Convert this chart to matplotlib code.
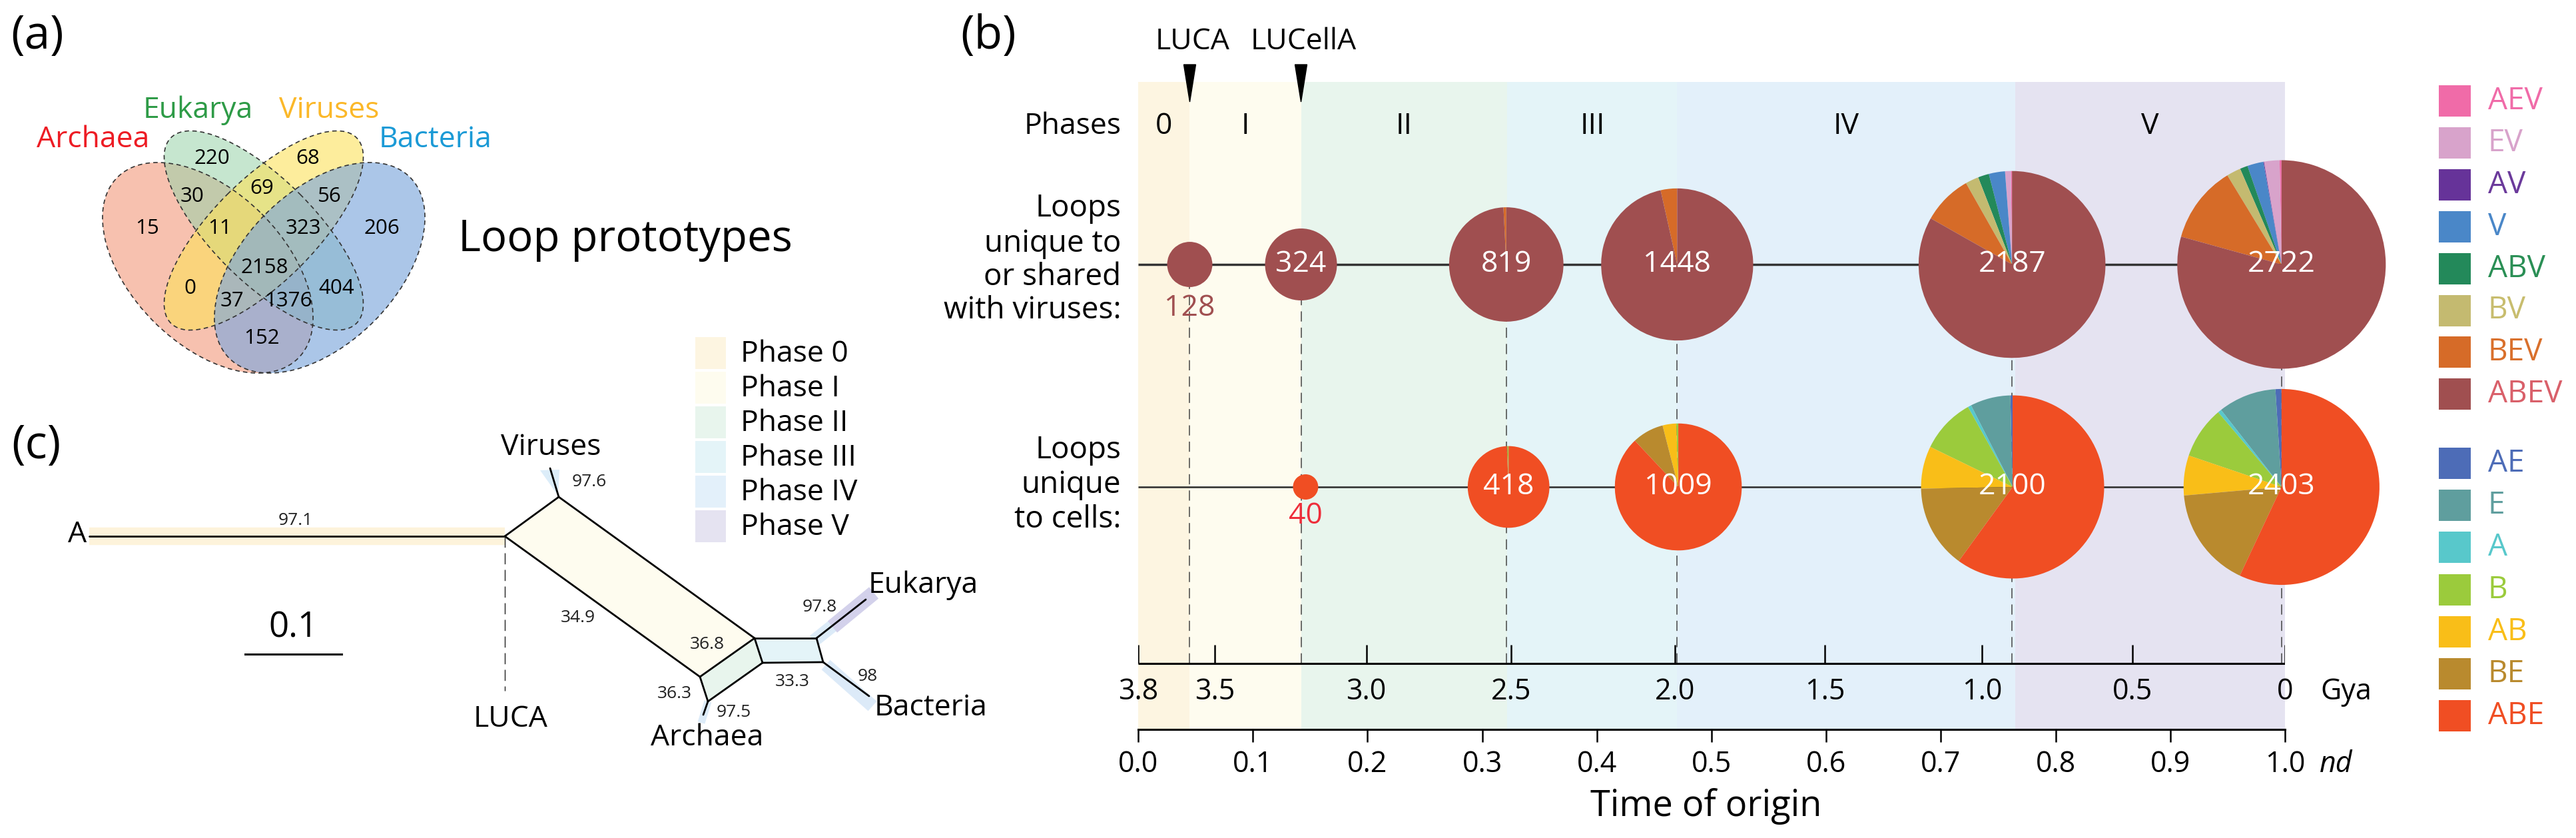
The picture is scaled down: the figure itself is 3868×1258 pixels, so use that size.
import numpy as np
import matplotlib.pyplot as plt
from matplotlib.patches import Ellipse, Rectangle, Polygon

plt.rcParams['font.family'] = ['Open Sans', 'DejaVu Sans']

W, H = 3868, 1258
fig = plt.figure(figsize=(W / 100, H / 100), dpi=100)

# ---------------- data ----------------
# (a) Venn counts
venn_sets = ['Archaea', 'Eukarya', 'Viruses', 'Bacteria']
venn_set_colors = ['#ED1C24', '#2E9B47', '#FBB829', '#1B9AD6']
venn_counts = [15, 220, 68, 206, 30, 69, 56, 11, 323, 2158, 0, 404, 37, 1376, 152]
# where each count sits (pixels)
venn_xy = [(221, 343), (318, 238), (462, 238), (573, 343), (288, 295), (393, 283),
           (495, 295), (330, 343), (455, 343), (397, 402), (285, 433), (505, 433),
           (348, 452), (433, 452), (393, 508)]

# (b) phases on the nd scale
phase_names = ['0', 'I', 'II', 'III', 'IV', 'V']
phase_edges = [0.0, 0.045, 0.142, 0.322, 0.470, 0.765, 1.0]
phase_colors = ['#FDF5E1', '#FEFCEF', '#E8F5ED', '#E4F4F8', '#E3F0FA', '#E5E3F1']

# loops unique to or shared with viruses
virus_groups = ['AEV', 'EV', 'AV', 'V', 'ABV', 'BV', 'BEV', 'ABEV']
virus_colors = ['#F06BA8', '#D8A3CB', '#663399', '#4A87C8', '#23895A', '#C4BA70', '#D66B28', '#A04F50']
virus_text_colors = ['#F06BA8', '#D8A3CB', '#6B3A9B', '#4A87C8', '#2A8F55', '#C8BD6E', '#D9702C', '#D9606A']
virus_times = [0.045, 0.142, 0.321, 0.470, 0.762, 0.997]
virus_totals = [128, 324, 819, 1448, 2187, 2722]
virus_pct = [
    [0, 0, 0, 0, 0, 0, 0, 100],
    [0, 0, 0, 0, 0, 0, 0, 100],
    [0, 0, 0, 0, 0, 0, 0.8, 99.2],
    [0, 0, 0, 0, 0, 0, 3.5, 96.5],
    [0.2, 1.0, 0, 2.8, 1.9, 2.3, 8.6, 83.2],
    [0.3, 2.4, 0.1, 2.5, 1.2, 2.2, 12.0, 79.3],
]

# loops unique to cells
cell_groups = ['AE', 'E', 'A', 'B', 'AB', 'BE', 'ABE']
cell_colors = ['#4D6CB7', '#5F9E9E', '#58C8CB', '#9BCB3C', '#F9BE18', '#B98A2E', '#F04E23']
cell_times = [0.146, 0.323, 0.471, 0.7625, 0.997]
cell_totals = [40, 418, 1009, 2100, 2403]
cell_pct = [
    [0, 0, 0, 0, 0, 0, 100],
    [0, 0, 0, 0.4, 0, 0.3, 99.3],
    [0, 0, 0, 0.5, 3.5, 8.0, 88.0],
    [0.4, 7.1, 0.6, 9.7, 7.5, 14.7, 60.0],
    [1.0, 9.6, 0.6, 8.6, 6.6, 16.6, 57.0],
]

nd_ticks = [0.0, 0.1, 0.2, 0.3, 0.4, 0.5, 0.6, 0.7, 0.8, 0.9, 1.0]
gya_labels = ['3.8', '3.5', '3.0', '2.5', '2.0', '1.5', '1.0', '0.5', '0']
gya_pos = [0.0, 0.067, 0.199, 0.325, 0.468, 0.599, 0.736, 0.867, 1.0]

# (c) phase legend and bootstrap support values
phase_legend = ['Phase 0', 'Phase I', 'Phase II', 'Phase III', 'Phase IV', 'Phase V']
support = ['97.1', '97.6', '34.9', '36.8', '36.3', '97.5', '33.3', '97.8', '98']

# ---------------- panel (b) ----------------
PX = 1722.0   # pixels per nd unit
X0 = 1709     # pixel column of nd = 0
YAX = 1095    # pixel row of the nd axis


def yb(p):
    return (YAX - p) / PX


ax = fig.add_axes([X0 / W, (H - YAX) / H, PX / W, YAX / H])
ROW_V = yb(397)
ROW_C = yb(731)
GYA_Y = yb(996)
TOP = yb(123)

for i in range(len(phase_names)):
    ax.axvspan(phase_edges[i], phase_edges[i + 1], ymin=0, ymax=TOP / (YAX / PX),
               color=phase_colors[i], lw=0, zorder=0)
    ax.text((phase_edges[i] + phase_edges[i + 1]) / 2, yb(190), phase_names[i],
            ha='center', va='center', fontsize=32)
ax.text(-0.015, yb(190), 'Phases', ha='right', va='center', fontsize=32)

# vertical dashed guides
ax.vlines(virus_times, GYA_Y, ROW_V, colors='#444444', lw=1.1,
          linestyles=(0, (10, 6)), zorder=1)

ax.hlines(ROW_V, 0, virus_times[-1], colors='#333333', lw=2.5, zorder=2)
ax.hlines(ROW_C, 0, cell_times[-1], colors='#333333', lw=1.9, zorder=2)


def draw_pies(times, totals, pcts, colors, row):
    for t, n, pct in zip(times, totals, pcts):
        r = 3.0 * np.sqrt(n) / PX
        wedges, _ = ax.pie(pct, colors=colors, radius=r, center=(t, row),
                           startangle=90, counterclock=True, frame=True,
                           wedgeprops=dict(linewidth=0))
        for w in wedges:
            w.set_clip_on(False)
            w.set_zorder(3)


draw_pies(virus_times, virus_totals, virus_pct, virus_colors, ROW_V)
draw_pies(cell_times, cell_totals, cell_pct, cell_colors, ROW_C)

for t, n in zip(virus_times[1:], virus_totals[1:]):
    ax.text(t, ROW_V, str(n), ha='center', va='center', color='white', fontsize=32, zorder=4)
ax.text(virus_times[0], yb(463), str(virus_totals[0]), ha='center', va='center',
        color='#A04F50', fontsize=32, zorder=4)
for t, n in zip(cell_times[1:], cell_totals[1:]):
    ax.text(t, ROW_C, str(n), ha='center', va='center', color='white', fontsize=32, zorder=4)
ax.text(cell_times[0], yb(775), str(cell_totals[0]), ha='center', va='center',
        color='#EE2D3A', fontsize=32, zorder=4)

# row captions
for line, py in zip(['Loops', 'unique to', 'or shared', 'with viruses:'], [313, 366, 416, 466]):
    ax.text(-0.015, yb(py), line, ha='right', va='center', fontsize=33)
for line, py in zip(['Loops', 'unique', 'to cells:'], [676, 728, 780]):
    ax.text(-0.015, yb(py), line, ha='right', va='center', fontsize=33)

# LUCA / LUCellA markers
for t, name in zip(virus_times[:2], ['LUCA', 'LUCellA']):
    w = 9 / PX
    ax.fill([t - w, t + w, t], [yb(97), yb(97), yb(153)], color='black', clip_on=False, zorder=5)
    ax.text(t + 4 / PX, yb(63), name, ha='center', va='center', fontsize=32)

# Gya axis
ax.hlines(GYA_Y, 0, 1, colors='black', lw=2.2, zorder=2)
ax.vlines(gya_pos, GYA_Y, GYA_Y + 28 / PX, colors='black', lw=1.8, zorder=2)
for g, lab in zip(gya_pos, gya_labels):
    ax.text(g, yb(1039), lab, ha='center', va='center', fontsize=31)
ax.text(1.031, yb(1039), 'Gya', ha='left', va='center', fontsize=31)

ax.set_aspect('auto')
ax.set_xlim(0, 1)
ax.set_ylim(0, YAX / PX)
ax.set_facecolor('none')
for s in ['left', 'top', 'right']:
    ax.spines[s].set_visible(False)
ax.spines['bottom'].set_linewidth(2.2)
ax.set_yticks([])
ax.set_xticks(nd_ticks)
ax.set_xticklabels([f'{v:.1f}' for v in nd_ticks])
ax.tick_params(axis='x', direction='out', length=14, width=1.8, labelsize=31, pad=8)
ax.text(1.03, yb(1148), 'nd', ha='left', va='center', fontsize=31, style='italic')
ax.text(0.495, yb(1211), 'Time of origin', ha='center', va='center', fontsize=39)

# ---------------- overlay (pixel coordinates) ----------------
ov = fig.add_axes([0, 0, 1, 1])
ov.set_xlim(0, W)
ov.set_ylim(H, 0)
ov.axis('off')
ov.set_facecolor('none')

ov.text(56, 55, '(a)', ha='center', va='center', fontsize=50)
ov.text(1484, 55, '(b)', ha='center', va='center', fontsize=50)
ov.text(54, 670, '(c)', ha='center', va='center', fontsize=50)

# legend of panel (b)
for i, (g, c, tc) in enumerate(zip(virus_groups, virus_colors, virus_text_colors)):
    y = 128 + 62.9 * i
    ov.add_patch(Rectangle((3662, y), 48, 47, color=c, lw=0))
    ov.text(3736, y + 24, g, ha='left', va='center', fontsize=33, color=tc)
for i, (g, c) in enumerate(zip(cell_groups, cell_colors)):
    y = 672 + 63.2 * i
    ov.add_patch(Rectangle((3662, y), 48, 47, color=c, lw=0))
    ov.text(3736, y + 24, g, ha='left', va='center', fontsize=33, color=c)

# ---------------- panel (a): Venn ----------------
ell = [((312, 402), 384, 229, 45, '#F39B7E', 0.62),
       ((396, 346), 394, 154, 45, '#97D2A9', 0.55),
       ((396, 346), 394, 154, -45, '#FDE25A', 0.6),
       ((480, 402), 384, 229, -45, '#7FA8DC', 0.65)]
for c, w, h, a, fc, al in ell:
    ov.add_patch(Ellipse(c, w, h, angle=a, facecolor=fc, alpha=al, lw=0, zorder=1))
for c, w, h, a, fc, al in ell:
    ov.add_patch(Ellipse(c, w, h, angle=a, facecolor='none', edgecolor='#333333',
                         lw=1.2, linestyle=(0, (4, 3)), zorder=2))
for (x, y), n in zip(venn_xy, venn_counts):
    ov.text(x, y, str(n), ha='center', va='center', fontsize=22.5, zorder=3)
for name, col, (x, y) in zip(venn_sets, venn_set_colors, [(140, 210), (297, 166), (494, 166), (654, 210)]):
    ov.text(x, y, name, ha='center', va='center', fontsize=32, color=col)
ov.text(688, 360, 'Loop prototypes', ha='left', va='center', fontsize=47)

# ---------------- panel (c): network tree ----------------
A_end, LUCA = (134, 805), (758, 805)
V_node, V_tip = (839, 746), (826, 703)
R1, L1 = (1133, 958), (1051, 1016)
R2, L2 = (1145, 995), (1063, 1053)
Ar_tip = (1056, 1073)
S1, S2 = (1226, 958), (1236, 994)
E_tip, B_tip = (1300, 900), (1305, 1045)


def glow(p, q, col, lw):
    ov.plot([p[0], q[0]], [p[1], q[1]], color=col, lw=lw, solid_capstyle='butt', zorder=1)


glow(A_end, LUCA, '#FDF3DB', 19)
ov.add_patch(Polygon([(811, 706), (840, 705), (838, 744)], closed=True, facecolor='#DCEDF9', lw=0, zorder=1))
glow((1222, 962), (1312, 890), '#DCEBF8', 14)
glow((1250, 941), (1312, 890), '#D3D1EB', 16)
glow((1240, 998), (1310, 1060), '#DCEAF8', 14)
glow(L2, (1053, 1085), '#DCEBF8', 8)

ov.add_patch(Polygon([LUCA, V_node, R1, L1], closed=True, facecolor=phase_colors[1], lw=0, zorder=1))
ov.add_patch(Polygon([L1, R1, R2, L2], closed=True, facecolor=phase_colors[2], lw=0, zorder=1))
ov.add_patch(Polygon([R1, S1, S2, R2], closed=True, facecolor=phase_colors[3], lw=0, zorder=1))

edges = [(A_end, LUCA), (LUCA, V_node), (V_node, V_tip), (V_node, R1), (LUCA, L1),
         (L1, R1), (L1, L2), (R1, R2), (R2, L2), (L2, Ar_tip), (R1, S1), (R2, S2),
         (S1, S2), (S1, E_tip), (S2, B_tip)]
for p, q in edges:
    ov.plot([p[0], q[0]], [p[1], q[1]], color='black', lw=2.0, solid_capstyle='round', zorder=2)
ov.plot([LUCA[0], LUCA[0]], [LUCA[1], 1037], color='#222222', lw=1.0, linestyle=(0, (12, 6)), zorder=2)

ov.text(116, 803, 'A', ha='center', va='center', fontsize=32)
ov.text(827, 672, 'Viruses', ha='center', va='center', fontsize=32)
ov.text(767, 1080, 'LUCA', ha='center', va='center', fontsize=32)
ov.text(1062, 1108, 'Archaea', ha='center', va='center', fontsize=32)
ov.text(1304, 879, 'Eukarya', ha='left', va='center', fontsize=32)
ov.text(1313, 1063, 'Bacteria', ha='left', va='center', fontsize=32)

for lab, (x, y) in zip(support, [(444, 782), (885, 723), (868, 928), (1062, 968), (1013, 1042),
                                 (1102, 1070), (1190, 1023), (1231, 912), (1303, 1015)]):
    ov.text(x, y, lab, ha='center', va='center', fontsize=19, color='#222222')

ov.plot([368, 513], [982, 982], color='black', lw=2.2)
ov.text(440, 943, '0.1', ha='center', va='center', fontsize=38)

for i, (lab, col) in enumerate(zip(phase_legend, phase_colors)):
    y = 506 + 52 * i
    ov.add_patch(Rectangle((1044, y), 46, 48, color=col, lw=0))
    ov.text(1112, y + 26, lab, ha='left', va='center', fontsize=32)

fig.savefig('out.png', dpi=100, facecolor='white')
